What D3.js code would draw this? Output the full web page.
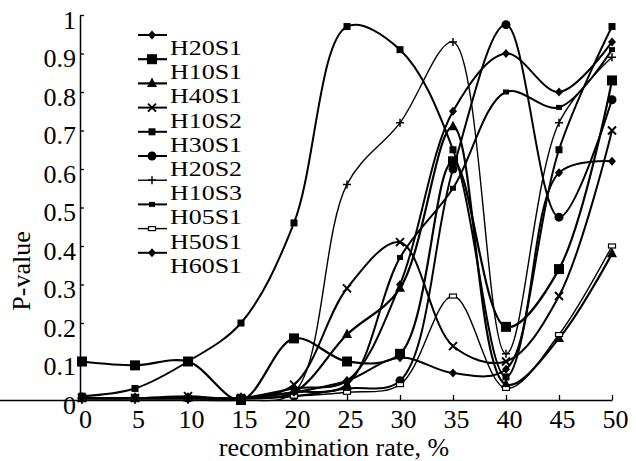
<!DOCTYPE html>
<html><head><meta charset="utf-8">
<script src="https://cdn.jsdelivr.net/npm/d3@7"></script>
<style>
body{margin:0;background:#fff}
svg{display:block}
text{font-family:"Liberation Serif","Times New Roman",Times,serif;fill:#000}
</style></head>
<body><svg id="c" width="636" height="461"></svg>
<script>
const xValues = [0, 5, 10, 15, 20, 25, 30, 35, 40, 45, 50];
const seriesNames = ["H20S1","H10S1","H40S1","H10S2","H30S1","H20S2","H10S3","H05S1","H50S1","H60S1"];
const H20S1 = [0.005,0.005,0.005,0.005,0.03,0.05,0.30,0.75,0.90,0.80,0.93];
const H10S1 = [0.10,0.09,0.10,0.00,0.16,0.10,0.12,0.62,0.19,0.34,0.83];
const H40S1 = [0.005,0.005,0.005,0.005,0.02,0.17,0.29,0.71,0.04,0.16,0.38];
const H10S2 = [0.005,0.005,0.01,0.005,0.04,0.29,0.41,0.14,0.10,0.27,0.70];
const H30S1 = [0.01,0.03,0.10,0.20,0.46,0.97,0.91,0.65,0.06,0.65,0.97];
const H20S2 = [0.005,0.005,0.005,0.005,0.01,0.03,0.05,0.60,0.975,0.475,0.78];
const H10S3 = [0.0,0.0,0.0,0.0,0.02,0.56,0.72,0.93,0.12,0.72,0.89];
const H05S1 = [0.005,0.005,0.005,0.005,0.02,0.04,0.37,0.55,0.80,0.76,0.91];
const H50S1 = [0.005,0.005,0.005,0.005,0.01,0.02,0.04,0.27,0.03,0.17,0.40];
const H60S1 = [0.005,0.005,0.005,0.005,0.02,0.05,0.11,0.07,0.08,0.59,0.62];
const seriesValues = [H20S1,H10S1,H40S1,H10S2,H30S1,H20S2,H10S3,H05S1,H50S1,H60S1];
const markerTypes = ["diamond","bigsquare","triangle","x","square","circle","plus","smallsquare","hollow","diamond"];
const yTicks = [0,0.1,0.2,0.3,0.4,0.5,0.6,0.7,0.8,0.9,1];
const yTickLabels = ["0","0.1","0.2","0.3","0.4","0.5","0.6","0.7","0.8","0.9","1"];
const xTickLabels = ["0","5","10","15","20","25","30","35","40","45","50"];

const svg = d3.select("#c");
const x = d3.scaleLinear().domain([0,50]).range([82,612]);
const y = d3.scaleLinear().domain([0,1]).range([400,15]);
const serif = '"Liberation Serif","Times New Roman",Times,serif';

// axes
const xAxis = d3.axisBottom(x).tickValues(xValues).tickFormat((d,i)=>xTickLabels[i])
  .tickSizeInner(-5).tickSizeOuter(0).tickPadding(10);
const gx = svg.append("g").attr("transform","translate(0,400)").call(xAxis);
gx.select(".domain").attr("d","M-2,0.5H" + (x(50)+0.5)).attr("stroke","#000").attr("stroke-width",1.5);
gx.selectAll("text").attr("font-size",26).attr("dx",3).style("font-family",serif);
gx.selectAll(".tick line").attr("stroke-width",1.3);

const yAxis = d3.axisLeft(y).tickValues(yTicks).tickFormat((d,i)=>yTickLabels[i])
  .tickSizeInner(-4).tickSizeOuter(0).tickPadding(4);
const gy = svg.append("g").attr("transform","translate(80,0)").call(yAxis);
gy.select(".domain").attr("stroke","#000").attr("stroke-width",1.5);
gy.selectAll("text").attr("font-size",26).attr("dy","0.5em").style("font-family",serif);
gy.selectAll(".tick line").attr("stroke-width",1.3);

// titles
svg.append("text").attr("x",334).attr("y",456).attr("text-anchor","middle")
  .attr("font-size",26).style("font-family",serif).text("recombination rate, %");
svg.append("text").attr("transform","translate(30,271) rotate(-90)").attr("text-anchor","middle")
  .attr("font-size",26).style("font-family",serif).text("P-value");

// markers
function drawMarker(g, type, cx, cy){
  if(type==="circle") g.append("circle").attr("cx",cx).attr("cy",cy).attr("r",4.5).attr("fill","#000");
  else if(type==="bigsquare") g.append("rect").attr("x",cx-5).attr("y",cy-5).attr("width",10).attr("height",10).attr("fill","#000");
  else if(type==="square") g.append("rect").attr("x",cx-3.5).attr("y",cy-3.5).attr("width",7).attr("height",7).attr("fill","#000");
  else if(type==="smallsquare") g.append("rect").attr("x",cx-3).attr("y",cy-2.5).attr("width",6).attr("height",5).attr("fill","#000");
  else if(type==="hollow") g.append("rect").attr("x",cx-3.5).attr("y",cy-2).attr("width",7).attr("height",4).attr("fill","#fff").attr("stroke","#000").attr("stroke-width",1.2);
  else if(type==="diamond") g.append("path").attr("d",`M${cx},${cy-4.5}L${cx+4},${cy}L${cx},${cy+4.5}L${cx-4},${cy}Z`).attr("fill","#000");
  else if(type==="triangle") g.append("path").attr("d",`M${cx},${cy-6}L${cx+5},${cy+3.5}L${cx-5},${cy+3.5}Z`).attr("fill","#000");
  else if(type==="x") g.append("path").attr("d",`M${cx-4},${cy-4}L${cx+4},${cy+4}M${cx-4},${cy+4}L${cx+4},${cy-4}`).attr("stroke","#000").attr("stroke-width",2);
  else if(type==="plus") g.append("path").attr("d",`M${cx-4},${cy}L${cx+4},${cy}M${cx},${cy-4}L${cx},${cy+4}`).attr("stroke","#000").attr("stroke-width",1.5);
}
const widths = [2,2.2,2.2,2,2,2,1.4,2,1.4,2];

const line = d3.line().x((d,i)=>x(xValues[i])).y(d=>y(d)).curve(d3.curveCatmullRom.alpha(0.5));
seriesValues.forEach((vals,si)=>{
  const g = svg.append("g");
  g.append("path").attr("d",line(vals)).attr("fill","none").attr("stroke","#000")
    .attr("stroke-width",widths[si]).attr("stroke-linejoin","round");
  vals.forEach((v,i)=>drawMarker(g, markerTypes[si], x(xValues[i]), y(v)));
});

// legend
const lg = svg.append("g");
seriesNames.forEach((name,i)=>{
  const ly = 35 + i*24.2;
  lg.append("line").attr("x1",138).attr("x2",167).attr("y1",ly).attr("y2",ly)
    .attr("stroke","#000").attr("stroke-width",widths[i]);
  drawMarker(lg, markerTypes[i], 152, ly);
  lg.append("text").attr("x",170).attr("y",ly+20).attr("font-size",22)
    .attr("textLength",72).attr("lengthAdjust","spacingAndGlyphs")
    .style("font-family",serif).text(name);
});
</script></body></html>
